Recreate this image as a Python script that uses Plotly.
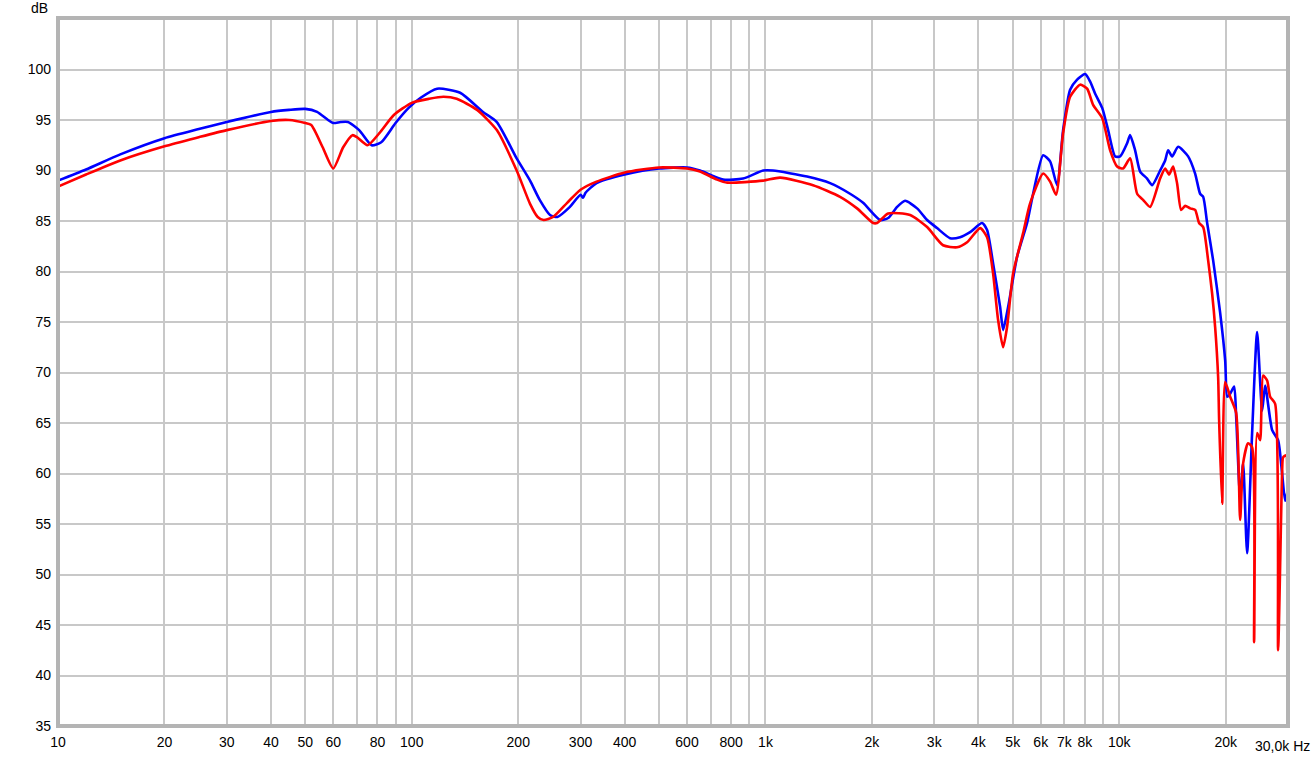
import plotly.graph_objects as go

# ---- data (frequency in Hz, level in dB) ----
blue_freq = [10, 12, 15, 20, 25, 30, 40, 45, 50, 54, 58, 60, 63, 66, 71, 77, 82, 90, 98, 106,
             118, 137, 159, 174, 198, 216, 230, 246, 258, 280, 300, 305, 310, 333, 400, 500,
             600, 653, 759, 864, 985, 1050, 1311, 1523, 1734, 1888, 2109, 2222, 2356, 2481,
             2683, 2864, 3055, 3326, 3549, 3789, 4096, 4231, 4400, 4606, 4697, 4853, 5143,
             5490, 5710, 6095, 6377, 6674, 6940, 7264, 7603, 8010, 8277, 8551, 8950, 9304,
             9736, 10060, 10527, 10735, 11090, 11460, 11990, 12390, 13050, 13484, 13750,
             14110, 14675, 15660, 16390, 16930, 17270, 17725, 18430, 19290, 19930, 20200,
             20590, 21130, 21410, 21970, 22400, 22990, 23750, 24540, 25350, 25850, 27060,
             28130, 28870, 29440, 29850]
blue_db = [89.0, 90.1, 91.6, 93.2, 94.1, 94.8, 95.8, 96.0, 96.1, 95.8, 95.0, 94.7, 94.8, 94.8,
           94.0, 92.5, 92.8, 94.7, 96.2, 97.2, 98.1, 97.7, 95.8, 94.8, 91.2, 89.0, 87.1, 85.6,
           85.4, 86.4, 87.6, 87.3, 87.8, 88.75, 89.6, 90.2, 90.3, 90.0, 89.1, 89.2, 90.0, 90.0,
           89.4, 88.75, 87.7, 86.8, 85.1, 85.3, 86.4, 87.0, 86.25, 85.1, 84.3, 83.3, 83.4,
           83.9, 84.8, 84.1, 80.8, 76.5, 74.2, 76.5, 81.45, 84.8, 87.7, 91.5, 90.9, 88.55,
           94.0, 98.0, 99.0, 99.55, 98.8, 97.6, 96.2, 94.0, 91.4, 91.4, 92.7, 93.5, 92.0,
           89.9, 89.2, 88.55, 90.0, 91.0, 92.0, 91.4, 92.35, 91.4, 89.7, 87.7, 87.4, 84.8,
           81.1, 75.9, 71.2, 67.6, 67.9, 68.6, 65.6, 57.6, 61.0, 52.1, 64.0, 74.0, 66.2,
           68.7, 64.3, 63.3, 60.0, 57.3, 58.1]

red_freq = [10, 12, 15, 20, 25, 30, 40, 45, 50, 52, 56, 60, 64, 68, 70, 75, 81, 89, 100, 112,
            123, 134, 153, 174, 198, 216, 227, 236, 251, 275, 300, 333, 400, 500, 600, 653,
            730, 780, 985, 1100, 1363, 1625, 1815, 2015, 2068, 2222, 2564, 2864, 3177, 3481,
            3715, 4044, 4231, 4400, 4546, 4697, 4819, 5012, 5349, 5598, 6095, 6377, 6630,
            6940, 7264, 7753, 8115, 8438, 8950, 9426, 9863, 10255, 10735, 11236, 11680,
            12230, 13050, 13484, 13840, 14200, 14580, 14960, 15360, 15870, 16390, 16820,
            17270, 17840, 18310, 18670, 19040, 19160, 19540, 19930, 20590, 21410, 21970,
            22400, 23140, 23750, 24060, 24540, 25020, 25520, 26190, 26710, 27590, 28130,
            28870, 29060, 29650, 29850]
red_db = [88.4, 89.6, 91.0, 92.4, 93.3, 94.0, 94.9, 95.0, 94.7, 94.5, 92.3, 90.2, 92.3, 93.5,
          93.3, 92.5, 93.7, 95.5, 96.7, 97.1, 97.3, 97.1, 96.0, 94.0, 90.0, 86.7, 85.4, 85.1,
          85.4, 86.8, 88.1, 88.9, 89.8, 90.3, 90.2, 89.9, 89.1, 88.8, 89.0, 89.3, 88.55, 87.4,
          86.25, 84.8, 84.8, 85.75, 85.6, 84.4, 82.6, 82.4, 82.9, 84.3, 83.4, 79.8, 75.2,
          72.5, 74.5, 79.8, 83.8, 86.75, 89.7, 88.9, 87.6, 93.7, 97.3, 98.5, 98.1, 96.5,
          95.2, 92.0, 90.4, 90.2, 91.2, 87.7, 87.1, 86.4, 89.2, 90.2, 89.6, 90.4, 88.7, 86.1,
          86.5, 86.25, 86.1, 84.8, 84.4, 81.1, 77.8, 74.5, 69.5, 65.3, 57.0, 69.05, 67.6,
          66.0, 55.4, 61.0, 63.0, 62.6, 43.3, 64.0, 63.3, 69.7, 69.2, 67.6, 66.9, 42.5, 60.0,
          61.6, 61.8, 60.3]

y_ticks = [35, 40, 45, 50, 55, 60, 65, 70, 75, 80, 85, 90, 95, 100]
x_grid = [10, 20, 30, 40, 50, 60, 70, 80, 90,
          100, 200, 300, 400, 500, 600, 700, 800, 900,
          1000, 2000, 3000, 4000, 5000, 6000, 7000, 8000, 9000,
          10000, 20000]
x_labels = ["10", "20", "30", "40", "50", "60", "", "80", "",
            "100", "200", "300", "400", "", "600", "", "800", "",
            "1k", "2k", "3k", "4k", "5k", "6k", "7k", "8k", "",
            "10k", "20k"]

FONT = "Liberation Sans, Arial, sans-serif"

fig = go.Figure()
fig.add_trace(go.Scatter(x=blue_freq, y=blue_db, mode="lines",
                         line=dict(color="#0000ff", width=2.6, shape="spline", smoothing=0.6),
                         hoverinfo="skip"))
fig.add_trace(go.Scatter(x=red_freq, y=red_db, mode="lines",
                         line=dict(color="#ff0000", width=2.6, shape="spline", smoothing=0.6),
                         hoverinfo="skip"))

fig.update_layout(
    width=1315, height=759,
    margin=dict(l=58, r=27, t=18, b=33, autoexpand=False),
    paper_bgcolor="white", plot_bgcolor="white",
    showlegend=False,
    font=dict(family=FONT, size=14, color="#000000"),
    xaxis=dict(type="log", range=[1, 4.47712], tickmode="array",
               tickvals=x_grid, ticktext=x_labels, automargin=False,
               showgrid=True, gridcolor="#c8c8c8", gridwidth=1.5,
               zeroline=False, showline=False, ticks="",
               ticklabelstandoff=6,
               tickfont=dict(family=FONT, size=14)),
    yaxis=dict(range=[35, 105.1], tickmode="array", tickvals=y_ticks,
               ticktext=[str(v) for v in y_ticks], automargin=False,
               showgrid=True, gridcolor="#c8c8c8", gridwidth=1.5,
               zeroline=False, showline=False, ticks="",
               ticklabelstandoff=6,
               tickfont=dict(family=FONT, size=14)),
    shapes=[dict(type="rect", xref="paper", yref="paper", x0=0, x1=1, y0=0, y1=1,
                 line=dict(color="#b4b4b4", width=4), layer="above")],
    annotations=[
        dict(text="dB", xref="paper", yref="paper", x=0, y=1, xanchor="right",
             yanchor="middle", xshift=-8, yshift=10, showarrow=False,
             font=dict(family=FONT, size=14)),
        dict(text="30,0k Hz", xref="paper", yref="paper", x=1, y=0, xanchor="right",
             yanchor="top", xshift=24, yshift=-10, showarrow=False,
             font=dict(family=FONT, size=14)),
    ],
)

fig.write_html("out.html",
               config={"displayModeBar": False},
               post_script="document.body.style.margin='0';document.body.style.padding='0';")
